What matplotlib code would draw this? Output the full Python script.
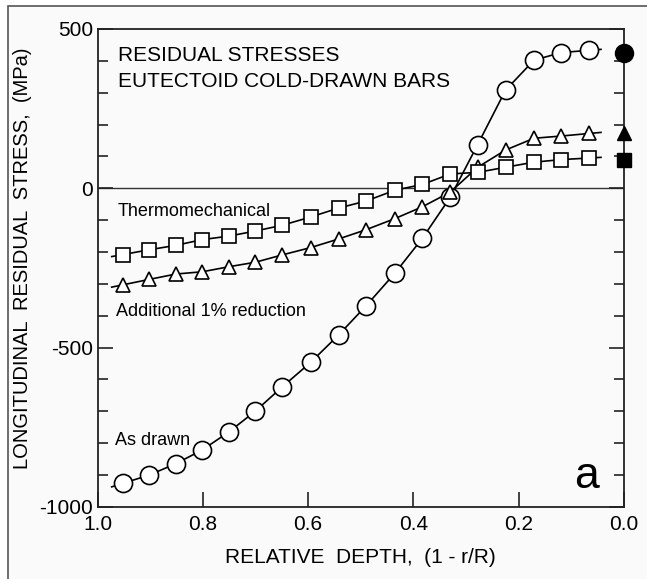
import numpy as np
import matplotlib
matplotlib.use("Agg")
import matplotlib.pyplot as plt
from matplotlib.patches import Rectangle
from matplotlib.ticker import MultipleLocator

plt.rcParams['font.family'] = ['Liberation Sans', 'DejaVu Sans']
plt.rcParams['axes.unicode_minus'] = False

# relative depth (1 - r/R) of the measured points
depth = [0.952, 0.902, 0.851, 0.801, 0.750, 0.700, 0.649, 0.595, 0.542, 0.490,
         0.435, 0.383, 0.330, 0.278, 0.225, 0.171, 0.119, 0.066]

# residual stress, MPa
as_drawn = [-926, -900, -864, -821, -764, -699, -623, -546, -460, -369,
            -266, -157, -28, 137, 308, 402, 426, 433]
additional_1pct = [-303, -286, -269, -262, -246, -232, -209, -186, -159, -130,
                   -95, -58, -12, 66, 120, 157, 164, 172]
thermomechanical = [-208, -193, -179, -161, -150, -134, -116, -90, -62, -40,
                    -6, 12, 45, 50, 66, 82, 90, 95]

# surface values (filled symbols at depth 0)
surface_depth = 0.0
surface_as_drawn = 425
surface_additional = 172
surface_thermo = 90

series = [
    (as_drawn, 'o', 13, surface_as_drawn),
    (additional_1pct, '^', 10.5, surface_additional),
    (thermomechanical, 's', 10.5, surface_thermo),
]

fig = plt.figure(figsize=(6.47, 5.79), dpi=100)
fig.patch.set_facecolor('white')
# scanned page frame: only the top and left edges fall inside the picture
fig.patches.append(Rectangle((8 / 647, -0.05), 1.1, 0.05 + (579 - 6) / 579,
                             transform=fig.transFigure, facecolor='#fafafa',
                             edgecolor='#555555', linewidth=1.2, zorder=-10))

ax = fig.add_axes([0.1507, 0.1244, 0.8138, 0.8256])
ax.set_facecolor('none')

x = np.array(depth)
for vals, mk, ms, surf in series:
    y = np.array(vals, dtype=float)
    # short stubs of the fitted curve past the first/last points
    ext = 0.42
    x_line = np.concatenate([[x[0] + ext * (x[0] - x[1])], x, [x[-1] - ext * (x[-2] - x[-1])]])
    y_line = np.concatenate([[y[0] + ext * (y[0] - y[1])], y, [y[-1] - ext * (y[-2] - y[-1])]])
    ax.plot(x_line, y_line, color='black', lw=1.2, zorder=2)
    ax.plot(x, y, linestyle='none', marker=mk, markersize=ms, markerfacecolor='white',
            markeredgecolor='black', markeredgewidth=1.2, zorder=3)
    ax.plot([surface_depth], [surf], linestyle='none', marker=mk, markersize=ms,
            markerfacecolor='black', markeredgecolor='black', clip_on=False, zorder=4)

ax.axhline(0, color='#333333', lw=1.0, zorder=1)

ax.set_xlim(1.0, 0.0)
ax.set_ylim(-1000, 500)

ax.xaxis.set_major_locator(MultipleLocator(0.2))
ax.yaxis.set_major_locator(MultipleLocator(500))
ax.yaxis.set_minor_locator(MultipleLocator(100))
ax.xaxis.set_major_formatter(plt.FuncFormatter(lambda v, p: f'{v:.1f}'))

ax.tick_params(axis='both', which='both', direction='in', labelsize=15, color='#222222')
ax.tick_params(axis='x', which='major', length=11, width=1.2, top=False, pad=6)
ax.tick_params(axis='y', which='major', length=11, width=1.2, right=True, pad=3)
ax.tick_params(axis='y', which='minor', length=7, width=1.2, right=True)

for sp in ax.spines.values():
    sp.set_linewidth(1.3)
    sp.set_color('#222222')

ax.set_xlabel('RELATIVE  DEPTH,  (1 - r/R)', fontsize=15, labelpad=10)
ax.set_ylabel('LONGITUDINAL  RESIDUAL  STRESS,  (MPa)', fontsize=14.5)
ax.yaxis.set_label_coords(-0.125, 0.52)

ax.text(0.039, 0.933, 'RESIDUAL STRESSES', transform=ax.transAxes, fontsize=15,
        va='baseline', ha='left')
ax.text(0.039, 0.879, 'EUTECTOID COLD-DRAWN BARS', transform=ax.transAxes, fontsize=15,
        va='baseline', ha='left')
ax.text(0.039, 0.609, 'Thermomechanical', transform=ax.transAxes, fontsize=13,
        va='baseline', ha='left')
ax.text(0.036, 0.400, 'Additional 1% reduction', transform=ax.transAxes, fontsize=13,
        va='baseline', ha='left')
ax.text(0.034, 0.130, 'As drawn', transform=ax.transAxes, fontsize=13,
        va='baseline', ha='left')
ax.text(0.905, 0.040, 'a', transform=ax.transAxes, fontsize=32,
        va='baseline', ha='left')

fig.savefig('out.png', dpi=100, facecolor=fig.get_facecolor())
plt.close(fig)
